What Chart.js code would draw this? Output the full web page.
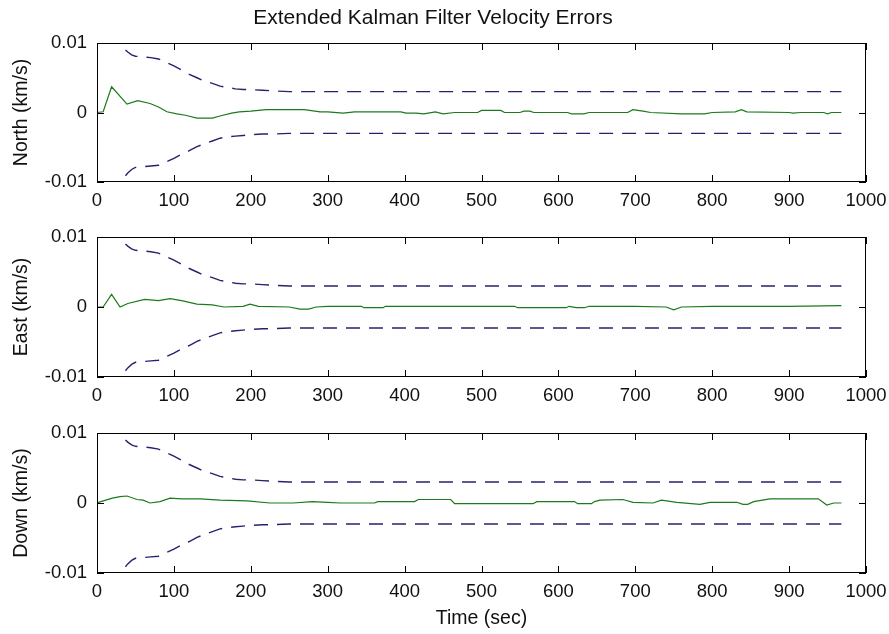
<!DOCTYPE html>
<html>
<head>
<meta charset="utf-8">
<script src="https://cdn.jsdelivr.net/npm/chart.js@4.4.1/dist/chart.umd.min.js"></script>
<style>
  html, body { margin: 0; padding: 0; background: #fff; }
  #fig { position: relative; width: 889px; height: 634px; overflow: hidden; }
  #fig canvas { position: absolute; left: 0; }
</style>
</head>
<body>
<div id="fig">
  <canvas id="north" width="889" height="215" style="top:0"></canvas>
  <canvas id="east" width="889" height="195" style="top:215px"></canvas>
  <canvas id="down" width="889" height="224" style="top:410px"></canvas>
</div>
<script>
const figTitle = "Extended Kalman Filter Velocity Errors";
const xTitle = "Time (sec)";

const xTicks = [0, 100, 200, 300, 400, 500, 600, 700, 800, 900, 1000];
const xTickLabels = ["0", "100", "200", "300", "400", "500", "600", "700", "800", "900", "1000"];
const yTicks = [-0.01, 0, 0.01];
const yTickLabels = ["-0.01", "0", "0.01"];

// 1-sigma covariance bounds (same for all three axes)
const boundTime = [37, 40, 45, 50, 60, 70, 80, 90, 100, 110, 120, 130, 140, 150, 160, 170, 180, 190, 200, 215, 230, 250, 300, 400, 500, 600, 700, 800, 900, 968];
const sigmaUpper = [0.0090, 0.0087, 0.0083, 0.0081, 0.0080, 0.0079, 0.0077, 0.0072, 0.0067, 0.0061, 0.0055, 0.0050, 0.0045, 0.0042, 0.0038, 0.0036, 0.0034, 0.0033, 0.0033, 0.0032, 0.0031, 0.0030, 0.0030, 0.0030, 0.0030, 0.0030, 0.0030, 0.0030, 0.0030, 0.0030];
const sigmaLower = [-0.0091, -0.0087, -0.0082, -0.0079, -0.0078, -0.0077, -0.0076, -0.0071, -0.0066, -0.0060, -0.0055, -0.0049, -0.0045, -0.0041, -0.0037, -0.0035, -0.0034, -0.0033, -0.0032, -0.0031, -0.0031, -0.0030, -0.0030, -0.0030, -0.0030, -0.0030, -0.0030, -0.0030, -0.0030, -0.0030];

// velocity errors
const northTime = [0, 8, 19, 39, 53, 69, 80, 91, 104, 115, 130, 150, 160, 175, 185, 200, 220, 240, 270, 290, 300, 320, 335, 395, 402, 415, 425, 440, 450, 465, 495, 500, 525, 530, 550, 555, 563, 568, 612, 617, 633, 640, 690, 697, 710, 720, 760, 790, 800, 830, 838, 845, 900, 905, 915, 945, 950, 955, 968];
const northErr = [0, 0.0001, 0.0037, 0.0012, 0.0017, 0.0013, 0.0008, 0.0001, -0.0002, -0.0004, -0.0008, -0.0008, -0.0005, -0.0001, 0.0001, 0.0002, 0.0004, 0.0004, 0.0004, 0.0001, 0.0001, -0.0001, 0.0001, 0.0001, -0.0001, -0.0001, -0.0002, 0.0001, -0.0002, 0, 0, 0.0003, 0.0003, 0, 0, 0.0002, 0.0002, 0, 0, -0.0002, -0.0002, 0, 0, 0.0004, 0.0002, 0, -0.0002, -0.0002, 0, 0.0001, 0.0004, 0.0001, 0, -0.0001, 0, 0, -0.0002, 0, 0];

const eastTime = [0, 8, 19, 30, 40, 62, 80, 95, 110, 130, 150, 165, 190, 199, 210, 250, 264, 275, 285, 300, 344, 347, 372, 375, 543, 547, 610, 614, 623, 634, 640, 700, 740, 750, 760, 800, 900, 968];
const eastErr = [0, 0, 0.0018, 0, 0.0005, 0.0011, 0.0009, 0.0012, 0.0009, 0.0004, 0.0003, 0, 0.0001, 0.0004, 0.0001, 0, -0.0003, -0.0003, 0, 0.0001, 0.0001, -0.0001, -0.0001, 0.0001, 0.0001, -0.0001, -0.0001, 0.0001, -0.0001, -0.0001, 0.0001, 0.0001, 0, -0.0004, 0, 0.0001, 0.0001, 0.0002];

const downTime = [0, 5, 20, 30, 39, 52, 60, 69, 82, 95, 110, 134, 160, 195, 225, 255, 280, 300, 316, 361, 365, 413, 418, 460, 465, 567, 572, 621, 625, 643, 647, 654, 684, 697, 723, 734, 754, 784, 797, 832, 840, 846, 854, 875, 938, 949, 958, 968];
const downErr = [0, 0.0002, 0.0007, 0.0009, 0.0010, 0.0005, 0.0004, 0, 0.0002, 0.0007, 0.0006, 0.0006, 0.0004, 0.0003, 0, 0, 0.0002, 0.0001, 0, 0, 0.0002, 0.0002, 0.0005, 0.0005, -0.0001, -0.0001, 0.0002, 0.0002, -0.0001, -0.0001, 0.0002, 0.0004, 0.0005, 0.0001, 0, 0.0004, 0.0001, -0.0002, 0.0001, 0.0001, -0.0002, -0.0002, 0.0002, 0.0006, 0.0006, -0.0003, 0, 0];

const ink = "#111";
const errColor = "#1c7a1c";
const boundColor = "#24246e";

Chart.defaults.font.family = "'Liberation Sans', Arial, sans-serif";
Chart.defaults.font.size = 18.5;
Chart.defaults.color = ink;

const pts = (xs, ys) => xs.map((x, i) => ({ x, y: ys[i] }));

// MATLAB-style axes box with inward tick marks on all four sides
const boxTicks = {
  id: "boxTicks",
  afterDraw(chart) {
    const { ctx, chartArea: a, scales: { x, y } } = chart;
    const len = 7;
    ctx.save();
    ctx.strokeStyle = "#000";
    ctx.lineWidth = 1;
    ctx.strokeRect(a.left + 0.5, a.top + 0.5, a.right - a.left - 1, a.bottom - a.top - 1);
    ctx.beginPath();
    x.ticks.forEach(t => {
      const px = Math.round(x.getPixelForValue(t.value)) + 0.5;
      ctx.moveTo(px, a.top);
      ctx.lineTo(px, a.top + len);
      ctx.moveTo(px, a.bottom);
      ctx.lineTo(px, a.bottom - len);
    });
    y.ticks.forEach(t => {
      const py = Math.round(y.getPixelForValue(t.value)) + 0.5;
      ctx.moveTo(a.left, py);
      ctx.lineTo(a.left + len, py);
      ctx.moveTo(a.right, py);
      ctx.lineTo(a.right - len, py);
    });
    ctx.stroke();
    ctx.restore();
  }
};

const panels = [
  { id: "north", label: "North (km/s)", time: northTime, err: northErr, padTop: 0, axisHeight: 33, showTitle: true },
  { id: "east", label: "East (km/s)", time: eastTime, err: eastErr, padTop: 22, axisHeight: 33 },
  { id: "down", label: "Down (km/s)", time: downTime, err: downErr, padTop: 23, axisHeight: 61, showXTitle: true }
];

panels.forEach(p => {
  new Chart(document.getElementById(p.id), {
    type: "line",
    data: {
      datasets: [
        { data: pts(p.time, p.err), borderColor: errColor, borderWidth: 1.2, pointRadius: 0, tension: 0 },
        { data: pts(boundTime, sigmaUpper), borderColor: boundColor, borderWidth: 1.4, borderDash: [14, 9], pointRadius: 0, tension: 0 },
        { data: pts(boundTime, sigmaLower), borderColor: boundColor, borderWidth: 1.4, borderDash: [14, 9], pointRadius: 0, tension: 0 }
      ]
    },
    options: {
      responsive: false,
      animation: false,
      layout: { padding: { top: p.padTop, right: 23, left: 0, bottom: 0 } },
      plugins: {
        legend: { display: false },
        tooltip: { enabled: false },
        title: {
          display: !!p.showTitle,
          text: figTitle,
          color: ink,
          font: { size: 21, weight: "normal" },
          padding: { top: 6, bottom: 11.8 }
        }
      },
      scales: {
        x: {
          type: "linear",
          min: 0,
          max: 1000,
          grid: { display: false, drawTicks: false },
          border: { display: false },
          afterBuildTicks: s => { s.ticks = xTicks.map(value => ({ value })); },
          ticks: { autoSkip: false, maxRotation: 0, padding: 8, callback: (v, i) => xTickLabels[i] },
          title: { display: !!p.showXTitle, text: xTitle, font: { size: 19.5 }, padding: { top: 0, bottom: 4 } },
          afterFit: s => {
            s.height = p.axisHeight;
            s.paddingLeft = 0;
            s.paddingRight = 0;
          }
        },
        y: {
          min: -0.01,
          max: 0.01,
          grid: { display: false, drawTicks: false },
          border: { display: false },
          afterBuildTicks: s => { s.ticks = yTicks.map(value => ({ value })); },
          ticks: { padding: 10, callback: (v, i) => yTickLabels[i] },
          title: { display: true, text: p.label, font: { size: 19.5 }, padding: { top: 10, bottom: 0 } },
          afterFit: s => { s.width = 97; }
        }
      }
    },
    plugins: [boxTicks]
  });
});
</script>
</body>
</html>
